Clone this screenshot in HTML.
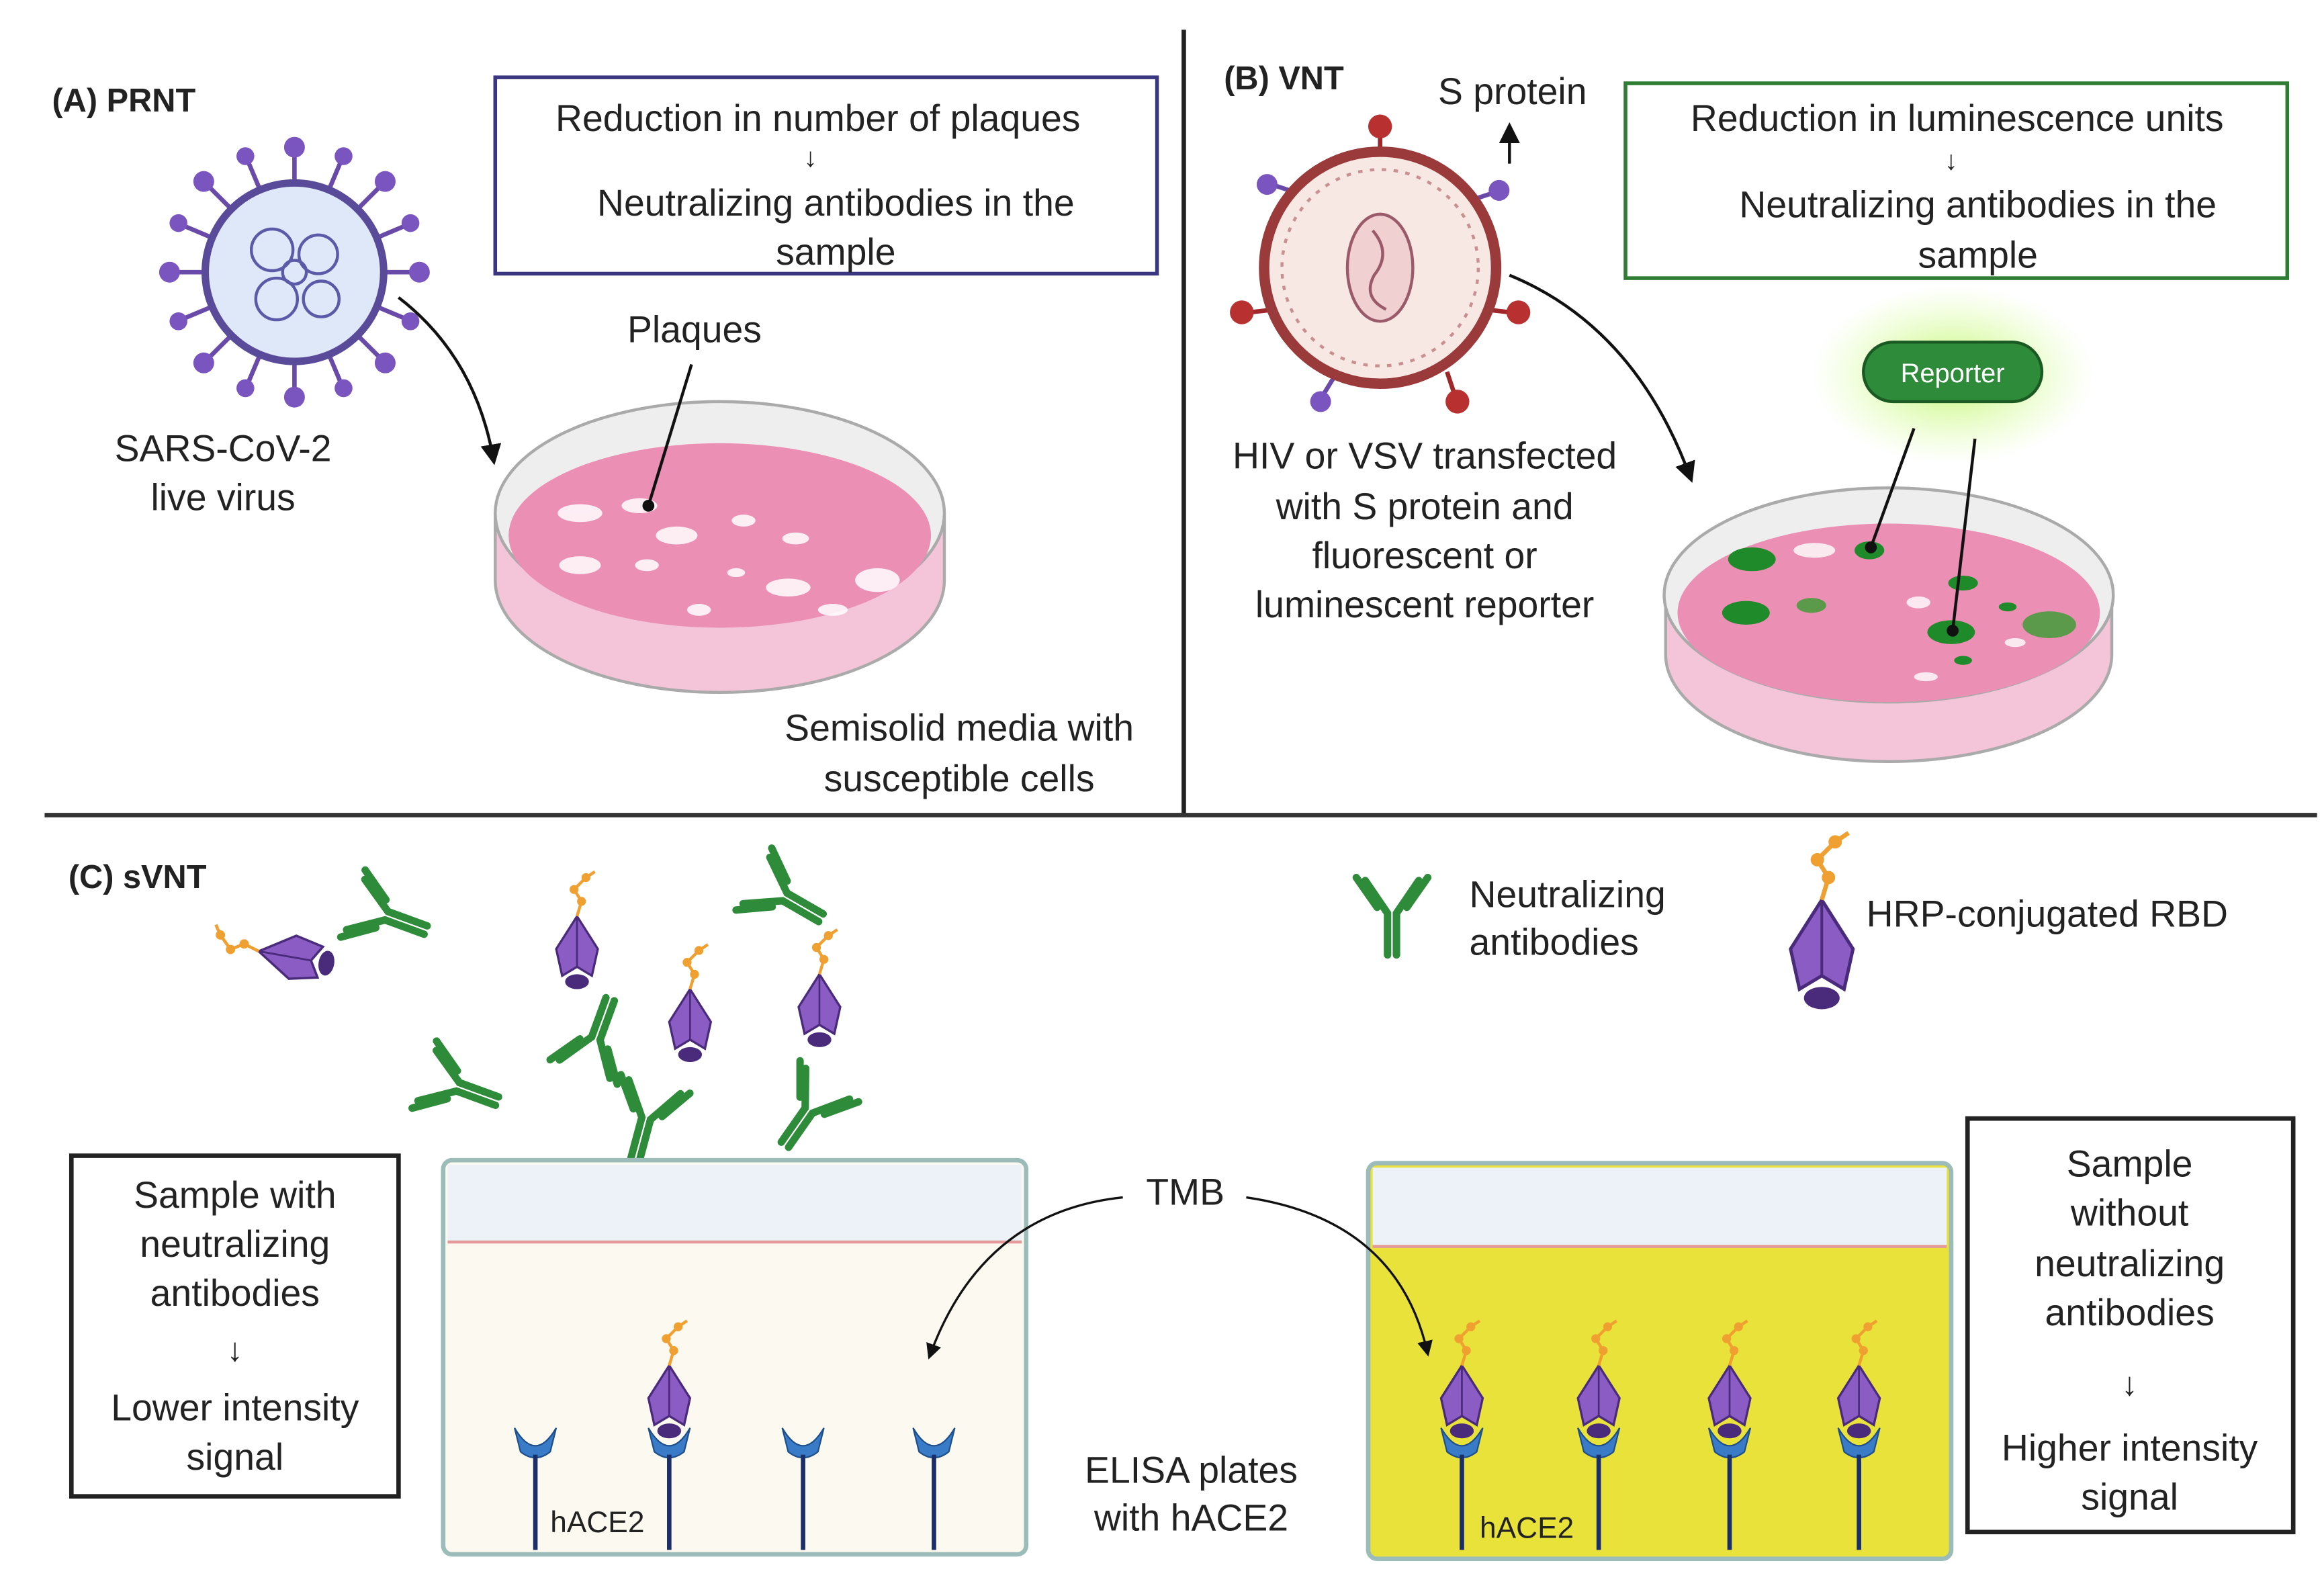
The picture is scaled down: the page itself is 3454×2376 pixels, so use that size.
<!DOCTYPE html>
<html><head><meta charset="utf-8"><style>
html,body{margin:0;padding:0;background:#fff;}
svg{display:block;}
text{font-family:"Liberation Sans","DejaVu Sans",sans-serif;fill:#222;}
</style></head><body>
<svg width="3454" height="2376" viewBox="0 0 1560 1073" preserveAspectRatio="none" xmlns="http://www.w3.org/2000/svg">
<defs>
<radialGradient id="glow"><stop offset="0" stop-color="#b6f25a" stop-opacity="0.9"/><stop offset="1" stop-color="#d8ff9a" stop-opacity="0"/></radialGradient>
<marker id="ah" viewBox="0 0 10 10" refX="8" refY="5" markerWidth="7" markerHeight="7" orient="auto"><path d="M0,0L10,5L0,10z" fill="#111"/></marker>
<g id="rbd"><path d="M-14,-8 L0,-30 L14,-8 L10,10 L0,4 L-10,10Z" fill="#8a5cc4" stroke="#4a2a7a" stroke-width="1.5"/><path d="M0,-30 L0,4" stroke="#4a2a7a" stroke-width="1.2"/><ellipse cx="0" cy="14" rx="8" ry="5" fill="#4a2a7a"/><path d="M0,-30 L3,-40 L-2,-48 L6,-56 L12,-60" stroke="#f0a030" stroke-width="2" fill="none"/><circle cx="3" cy="-40" r="3" fill="#f0a030"/><circle cx="-2" cy="-48" r="3" fill="#f0a030"/><circle cx="6" cy="-56" r="3" fill="#f0a030"/></g>
<g id="ab" stroke="#2e8b3a" stroke-width="5" fill="none" stroke-linecap="round"><path d="M-3,30 L-3,2 L-18,-20"/><path d="M3,30 L3,2 L18,-20"/><path d="M-10,-2 L-24,-22"/><path d="M10,-2 L24,-22"/></g>
<g id="ace"><path d="M-14,-12 Q0,12 14,-12 L10,4 Q0,12 -10,4Z" fill="#3a7bc8" stroke="#1f4f8a"/><line x1="0" y1="6" x2="0" y2="70" stroke="#1a2f6a" stroke-width="3"/></g>
</defs>
<!-- dividers -->
<line x1="796" y1="20" x2="796" y2="548" stroke="#222" stroke-width="3"/>
<line x1="30" y1="548" x2="1558" y2="548" stroke="#333" stroke-width="3"/>
<!-- Panel A -->
<text x="35" y="75" font-size="22" font-weight="bold">(A)  PRNT</text>
<rect x="333" y="52" width="445" height="132" fill="#fff" stroke="#3b3680" stroke-width="2.5"/>
<text x="550" y="88" font-size="25" text-anchor="middle">Reduction in number of plaques</text>
<text x="545" y="112" font-size="18" text-anchor="middle">↓</text>
<text x="562" y="145" font-size="25" text-anchor="middle">Neutralizing antibodies in the</text>
<text x="562" y="178" font-size="25" text-anchor="middle">sample</text>
<g transform="translate(198,183)">
<g stroke="#6a4aa8" stroke-width="3">
<line x1="0" y1="-60" x2="0" y2="-80"/><line x1="0" y1="60" x2="0" y2="80"/><line x1="-60" y1="0" x2="-80" y2="0"/><line x1="60" y1="0" x2="80" y2="0"/>
<line x1="42" y1="42" x2="58" y2="58"/><line x1="-42" y1="42" x2="-58" y2="58"/><line x1="42" y1="-42" x2="58" y2="-58"/><line x1="-42" y1="-42" x2="-58" y2="-58"/>
<line x1="23" y1="-55" x2="31" y2="-74"/><line x1="-23" y1="55" x2="-31" y2="74"/><line x1="55" y1="23" x2="74" y2="31"/><line x1="-55" y1="-23" x2="-74" y2="-31"/>
<line x1="-23" y1="-55" x2="-31" y2="-74"/><line x1="23" y1="55" x2="31" y2="74"/><line x1="55" y1="-23" x2="74" y2="-31"/><line x1="-55" y1="23" x2="-74" y2="31"/>
</g>
<g fill="#7a55c0"><circle cx="0" cy="-84" r="7"/><circle cx="0" cy="84" r="7"/><circle cx="-84" cy="0" r="7"/><circle cx="84" cy="0" r="7"/><circle cx="61" cy="61" r="7"/><circle cx="-61" cy="61" r="7"/><circle cx="61" cy="-61" r="7"/><circle cx="-61" cy="-61" r="7"/><circle cx="33" cy="-78" r="6"/><circle cx="-33" cy="78" r="6"/><circle cx="78" cy="33" r="6"/><circle cx="-78" cy="-33" r="6"/><circle cx="-33" cy="-78" r="6"/><circle cx="33" cy="78" r="6"/><circle cx="78" cy="-33" r="6"/><circle cx="-78" cy="33" r="6"/></g>
<circle r="60" fill="#dfe8f8" stroke="#5a4a9a" stroke-width="5"/>
<g fill="none" stroke="#5a5aa8" stroke-width="2"><circle cx="-15" cy="-15" r="14"/><circle cx="16" cy="-12" r="13"/><circle cx="-12" cy="18" r="14"/><circle cx="18" cy="18" r="12"/><circle cx="0" cy="0" r="8"/></g>
</g>
<text x="150" y="310" font-size="25" text-anchor="middle">SARS-CoV-2</text>
<text x="150" y="343" font-size="25" text-anchor="middle">live virus</text>
<path d="M268,200 Q320,240 332,310" fill="none" stroke="#111" stroke-width="2" marker-end="url(#ah)"/>
<!-- dish A -->
<path d="M333,345 L333,390 A150,75 0 0 0 635,390 L635,345" fill="#f4c4d8" stroke="#aaa" stroke-width="2"/>
<ellipse cx="484" cy="345" rx="151" ry="75" fill="#eeeeee" stroke="#aaa" stroke-width="2"/>
<ellipse cx="484" cy="360" rx="142" ry="62" fill="#eb8fb4"/>
<g fill="#fff" opacity="0.85"><ellipse cx="390" cy="345" rx="15" ry="6"/><ellipse cx="430" cy="340" rx="12" ry="5"/><ellipse cx="455" cy="360" rx="14" ry="6"/><ellipse cx="390" cy="380" rx="14" ry="6"/><ellipse cx="435" cy="380" rx="8" ry="4"/><ellipse cx="530" cy="395" rx="15" ry="6"/><ellipse cx="535" cy="362" rx="9" ry="4"/><ellipse cx="590" cy="390" rx="15" ry="8"/><ellipse cx="500" cy="350" rx="8" ry="4"/><ellipse cx="470" cy="410" rx="8" ry="4"/><ellipse cx="560" cy="410" rx="10" ry="4"/><ellipse cx="495" cy="385" rx="6" ry="3"/></g>
<text x="467" y="230" font-size="25" text-anchor="middle">Plaques</text>
<line x1="465" y1="245" x2="436" y2="340" stroke="#111" stroke-width="2"/><circle cx="436" cy="340" r="4" fill="#111"/>
<text x="645" y="498" font-size="25" text-anchor="middle">Semisolid media with</text>
<text x="645" y="532" font-size="25" text-anchor="middle">susceptible cells</text>
<!-- Panel B -->
<text x="823" y="60" font-size="22" font-weight="bold">(B)  VNT</text>
<text x="1017" y="70" font-size="25" text-anchor="middle">S protein</text>
<line x1="1015" y1="110" x2="1015" y2="85" stroke="#111" stroke-width="2" marker-end="url(#ah)"/>
<rect x="1093" y="56" width="445" height="131" fill="#fff" stroke="#2e7d32" stroke-width="2.5"/>
<text x="1316" y="88" font-size="25" text-anchor="middle">Reduction in luminescence units</text>
<text x="1312" y="114" font-size="18" text-anchor="middle">↓</text>
<text x="1330" y="146" font-size="25" text-anchor="middle">Neutralizing antibodies in the</text>
<text x="1330" y="180" font-size="25" text-anchor="middle">sample</text>
<g transform="translate(928,180)">
<g stroke="#a0282a" stroke-width="3"><line x1="0" y1="-75" x2="0" y2="-90"/><line x1="-70" y1="28" x2="-88" y2="30"/><line x1="70" y1="28" x2="88" y2="30"/><line x1="45" y1="70" x2="50" y2="85"/></g>
<g fill="#b83030"><circle cx="0" cy="-95" r="8"/><circle cx="-93" cy="30" r="8"/><circle cx="93" cy="30" r="8"/><circle cx="52" cy="90" r="8"/></g>
<g stroke="#6a4aa8" stroke-width="3"><line x1="-55" y1="-50" x2="-70" y2="-55"/><line x1="60" y1="-45" x2="75" y2="-50"/><line x1="-30" y1="72" x2="-38" y2="85"/></g>
<g fill="#7a55c0"><circle cx="-76" cy="-56" r="7"/><circle cx="80" cy="-52" r="7"/><circle cx="-40" cy="90" r="7"/></g>
<circle r="78" fill="#f8e8e4" stroke="#9a3a3a" stroke-width="7"/>
<circle r="66" fill="none" stroke="#c89090" stroke-width="2" stroke-dasharray="3,5"/>
<ellipse cx="0" cy="0" rx="22" ry="36" fill="#f0d0d0" stroke="#9a5a6a" stroke-width="2"/>
<path d="M-5,-25 Q8,-10 -4,5 Q-12,20 4,28" fill="none" stroke="#9a5a6a" stroke-width="2"/>
</g>
<text x="958" y="315" font-size="25" text-anchor="middle">HIV or VSV transfected</text>
<text x="958" y="349" font-size="25" text-anchor="middle">with S protein and</text>
<text x="958" y="382" font-size="25" text-anchor="middle">fluorescent or</text>
<text x="958" y="415" font-size="25" text-anchor="middle">luminescent reporter</text>
<path d="M1015,185 Q1100,220 1137,322" fill="none" stroke="#111" stroke-width="2" marker-end="url(#ah)"/>
<ellipse cx="1313" cy="252" rx="95" ry="60" fill="url(#glow)"/>
<path d="M1120,400 L1120,440 A150,72 0 0 0 1420,440 L1420,400" fill="#f4c4d8" stroke="#aaa" stroke-width="2"/>
<ellipse cx="1270" cy="400" rx="151" ry="72" fill="#eee" stroke="#aaa" stroke-width="2"/>
<ellipse cx="1270" cy="412" rx="142" ry="60" fill="#eb8fb4"/>
<g fill="#1e8a2a"><ellipse cx="1178" cy="376" rx="16" ry="8"/><ellipse cx="1174" cy="412" rx="16" ry="8"/><ellipse cx="1257" cy="370" rx="10" ry="6"/><ellipse cx="1320" cy="392" rx="10" ry="5"/><ellipse cx="1312" cy="425" rx="16" ry="8"/><ellipse cx="1320" cy="444" rx="6" ry="3"/><ellipse cx="1350" cy="408" rx="6" ry="3"/></g>
<g fill="#5a9a4a"><ellipse cx="1218" cy="407" rx="10" ry="5"/><ellipse cx="1378" cy="420" rx="18" ry="9"/></g>
<g fill="#fff" opacity="0.8"><ellipse cx="1220" cy="370" rx="14" ry="5"/><ellipse cx="1290" cy="405" rx="8" ry="4"/><ellipse cx="1295" cy="455" rx="8" ry="3"/><ellipse cx="1355" cy="432" rx="7" ry="3"/></g>
<rect x="1253" y="230" width="120" height="40" rx="20" fill="#2e8b3a" stroke="#1a5a22" stroke-width="2"/>
<text x="1313" y="257" font-size="18" text-anchor="middle" style="fill:#fff">Reporter</text>
<line x1="1287" y1="288" x2="1258" y2="368" stroke="#111" stroke-width="2"/><circle cx="1258" cy="368" r="4" fill="#111"/>
<line x1="1328" y1="295" x2="1313" y2="424" stroke="#111" stroke-width="2"/><circle cx="1313" cy="424" r="4" fill="#111"/>
<!-- Panel C -->
<text x="46" y="597" font-size="22" font-weight="bold">(C)  sVNT</text>
<use href="#ab" transform="translate(936,612)"/>
<text x="988" y="610" font-size="25">Neutralizing</text>
<text x="988" y="642" font-size="25">antibodies</text>
<use href="#rbd" transform="translate(1225,650) scale(1.5)"/>
<text x="1255" y="623" font-size="25">HRP-conjugated RBD</text>
<use href="#rbd" transform="translate(205,645) rotate(-80) scale(1.05)"/>
<use href="#ab" transform="translate(258,615) rotate(-70)"/>
<use href="#rbd" transform="translate(388,646)"/>
<use href="#ab" transform="translate(526,602) rotate(-60)"/>
<use href="#rbd" transform="translate(464,695)"/>
<use href="#rbd" transform="translate(551,685)"/>
<use href="#ab" transform="translate(400,700) rotate(200)"/>
<use href="#ab" transform="translate(306,730) rotate(-70)"/>
<use href="#ab" transform="translate(435,750) rotate(15)"/>
<use href="#ab" transform="translate(545,745) rotate(35)"/>
<!-- wells -->
<rect x="298" y="780" width="392" height="265" rx="6" fill="#fcf9f0" stroke="#9bbcb8" stroke-width="3"/>
<rect x="301" y="783" width="386" height="52" fill="#edf1f8"/>
<line x1="301" y1="835" x2="687" y2="835" stroke="#e49a9a" stroke-width="2"/>
<rect x="920" y="782" width="392" height="266" rx="6" fill="#e9e23b" stroke="#9bbcb8" stroke-width="3"/>
<rect x="923" y="785" width="386" height="52" fill="#edf1f8"/>
<line x1="923" y1="838" x2="1309" y2="838" stroke="#e49a9a" stroke-width="2"/>
<use href="#ace" transform="translate(360,972)"/><use href="#ace" transform="translate(450,972)"/><use href="#ace" transform="translate(540,972)"/><use href="#ace" transform="translate(628,972)"/>
<use href="#rbd" transform="translate(450,948)"/>
<text x="370" y="1030" font-size="20">hACE2</text>
<use href="#ace" transform="translate(983,972)"/><use href="#ace" transform="translate(1075,972)"/><use href="#ace" transform="translate(1163,972)"/><use href="#ace" transform="translate(1250,972)"/>
<use href="#rbd" transform="translate(983,948)"/><use href="#rbd" transform="translate(1075,948)"/><use href="#rbd" transform="translate(1163,948)"/><use href="#rbd" transform="translate(1250,948)"/>
<text x="995" y="1034" font-size="20">hACE2</text>
<text x="797" y="810" font-size="25" text-anchor="middle">TMB</text>
<path d="M755,805 Q660,815 625,912" fill="none" stroke="#111" stroke-width="1.5" marker-end="url(#ah)"/>
<path d="M838,805 Q940,820 960,910" fill="none" stroke="#111" stroke-width="1.5" marker-end="url(#ah)"/>
<text x="801" y="997" font-size="25" text-anchor="middle">ELISA plates</text>
<text x="801" y="1029" font-size="25" text-anchor="middle">with hACE2</text>
<rect x="48" y="777" width="220" height="229" fill="#fff" stroke="#222" stroke-width="3"/>
<text x="158" y="812" font-size="25" text-anchor="middle">Sample with</text>
<text x="158" y="845" font-size="25" text-anchor="middle">neutralizing</text>
<text x="158" y="878" font-size="25" text-anchor="middle">antibodies</text>
<text x="158" y="915" font-size="22" text-anchor="middle">↓</text>
<text x="158" y="955" font-size="25" text-anchor="middle">Lower intensity</text>
<text x="158" y="988" font-size="25" text-anchor="middle">signal</text>
<rect x="1323" y="752" width="219" height="278" fill="#fff" stroke="#222" stroke-width="3"/>
<text x="1432" y="791" font-size="25" text-anchor="middle">Sample</text>
<text x="1432" y="824" font-size="25" text-anchor="middle">without</text>
<text x="1432" y="858" font-size="25" text-anchor="middle">neutralizing</text>
<text x="1432" y="891" font-size="25" text-anchor="middle">antibodies</text>
<text x="1432" y="938" font-size="22" text-anchor="middle">↓</text>
<text x="1432" y="982" font-size="25" text-anchor="middle">Higher intensity</text>
<text x="1432" y="1015" font-size="25" text-anchor="middle">signal</text>
</svg>
</body></html>
